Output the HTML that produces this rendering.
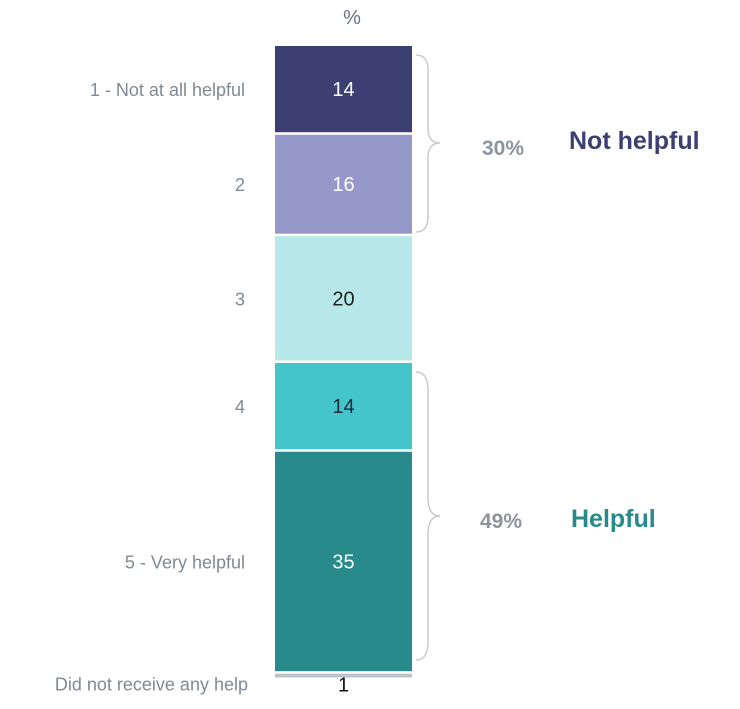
<!DOCTYPE html>
<html><head><meta charset="utf-8"><style>
body{margin:0;background:#fff;width:740px;height:704px;overflow:hidden;font-family:"Liberation Sans",sans-serif}
</style></head><body>
<svg width="740" height="704" id="chart">
<text x="352" y="24" text-anchor="middle" font-size="20" fill="#6b7580">%</text>
<g id="bars"></g>
<path d="M416,55 Q428,55 428,70 L428,128 Q428,143 440,143 Q428,143 428,158 L428,217 Q428,232 416,232" fill="none" stroke="#c8ccd0" stroke-width="1.5"/>
<path d="M416,372 Q428,372 428,390 L428,498 Q428,516 440,516 Q428,516 428,534 L428,642 Q428,660 416,660" fill="none" stroke="#c8ccd0" stroke-width="1.5"/>
<text x="482" y="155" font-size="21" font-weight="bold" fill="#8c959e">30%</text>
<text x="569" y="149" font-size="25" font-weight="bold" fill="#3b3f72">Not helpful</text>
<text x="480" y="528" font-size="21" font-weight="bold" fill="#8c959e">49%</text>
<text x="571" y="527" font-size="25" font-weight="bold" fill="#288a8a">Helpful</text>
</svg>
<script>
const categories=["1 - Not at all helpful","2","3","4","5 - Very helpful","Did not receive any help"];
const values=[14,16,20,14,35,1];
const colors=["#3b3f72","#9499c9","#b7e8ea","#44c5c9","#288a8a","#b9c4cc"];
const textColors=["#fff","#fff","#222","#1c2a3a","#fff","#111"];
const top0=46,bottom0=680,x0=275,w=137,gap=2.5;
const total=values.reduce((a,b)=>a+b,0);
const scale=v=>v*(bottom0-top0)/total;
const g=document.getElementById('bars');
const ns="http://www.w3.org/2000/svg";
let y=top0;
values.forEach((v,i)=>{
  const h=scale(v);
  const r=document.createElementNS(ns,'rect');
  
  
  r.setAttribute('x',x0);r.setAttribute('y',y);r.setAttribute('width',w);
  r.setAttribute('height',Math.max(h-gap,3));r.setAttribute('fill',colors[i]);
  g.appendChild(r);
  const last=i===values.length-1;
  const t=document.createElementNS(ns,'text');
  
  
  t.setAttribute('x',x0+w/2);
  t.setAttribute('y',last?y+18:y+(h-gap)/2+7);
  t.setAttribute('text-anchor','middle');t.setAttribute('font-size','20');
  t.setAttribute('fill',textColors[i]);t.textContent=v;g.appendChild(t);
  const c=document.createElementNS(ns,'text');
  
  
  c.setAttribute('x',last?248:245);
  c.setAttribute('y',last?y+17:y+(h-gap)/2+7);
  c.setAttribute('text-anchor','end');c.setAttribute('font-size','18');
  c.setAttribute('fill','#7f8a94');c.textContent=categories[i];g.appendChild(c);
  y+=h;
});
</script>
</body></html>
